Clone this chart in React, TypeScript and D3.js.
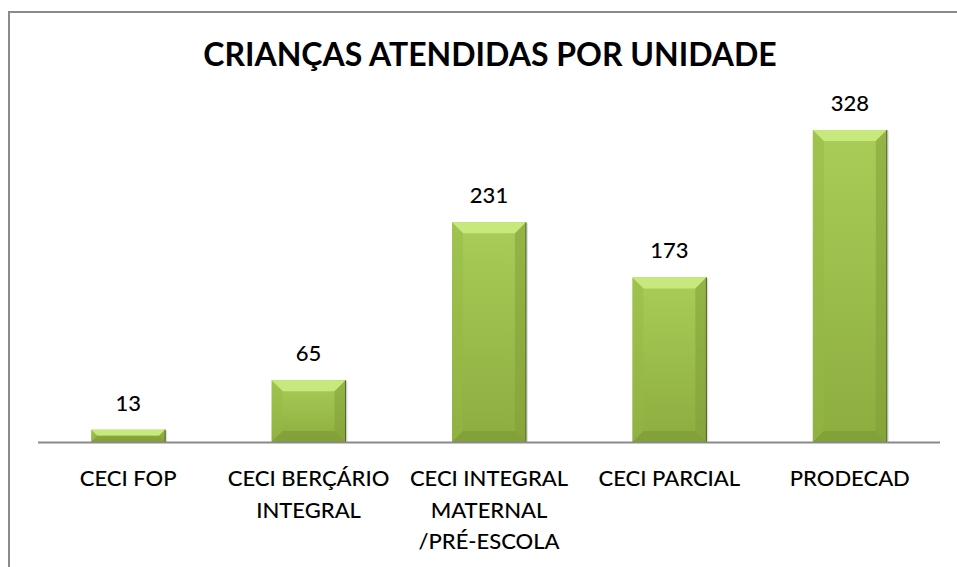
import React, { useEffect, useRef } from "react";
import * as d3 from "d3";

const categories = [
  ["CECI FOP"],
  ["CECI BERÇÁRIO", "INTEGRAL"],
  ["CECI INTEGRAL", "MATERNAL", "/PRÉ-ESCOLA"],
  ["CECI PARCIAL"],
  ["PRODECAD"],
];
const values = [13, 65, 231, 173, 328];
const title = "CRIANÇAS ATENDIDAS POR UNIDADE";

const App = () => {
  const ref = useRef<SVGSVGElement>(null);

  useEffect(() => {
    const svg = d3.select(ref.current);
    svg.selectAll("*").remove();

    const font = "Lato, 'Open Sans', sans-serif";
    const x = d3
      .scaleBand<number>()
      .domain(values.map((_, i) => i))
      .range([38, 940]);
    const y = d3.scaleLinear().domain([0, 350]).range([442, 109]);
    const barW = x.bandwidth() * 0.41;
    const bev = 11;

    const defs = svg.append("defs");
    const grad = defs
      .append("linearGradient")
      .attr("id", "face")
      .attr("x1", 0).attr("y1", 0).attr("x2", 0).attr("y2", 1);
    grad.append("stop").attr("offset", "0%").attr("stop-color", "#a9cd58");
    grad.append("stop").attr("offset", "100%").attr("stop-color", "#8dad3f");

    // chart border
    svg
      .append("rect")
      .attr("x", 9)
      .attr("y", 12)
      .attr("width", 980)
      .attr("height", 600)
      .attr("fill", "white")
      .attr("stroke", "#8a8a8a")
      .attr("stroke-width", 2);

    svg
      .append("text")
      .attr("x", 490)
      .attr("y", 66)
      .attr("text-anchor", "middle")
      .style("font-family", font)
      .style("font-weight", "bold")
      .style("font-size", "32px")
      .text(title);

    const bars = svg
      .selectAll("g.bar")
      .data(values)
      .enter()
      .append("g")
      .attr("class", "bar");

    bars.each(function (d, i) {
      const g = d3.select(this);
      const x0 = x(i)! + (x.bandwidth() - barW) / 2;
      const x1 = x0 + barW;
      const y0 = y(d);
      const y1 = y(0);
      const b = Math.min(bev, (y1 - y0) / 2);
      // shadow
      g.append("rect")
        .attr("x", x0 + 1)
        .attr("y", y0 + 1)
        .attr("width", barW + 1)
        .attr("height", y1 - y0)
        .attr("fill", "#000")
        .attr("opacity", 0.12);
      g.append("rect")
        .attr("x", x0)
        .attr("y", y0)
        .attr("width", barW)
        .attr("height", y1 - y0)
        .attr("fill", "url(#face)");
      const poly = (pts: number[][], fill: string, op = 1) =>
        g
          .append("polygon")
          .attr("points", pts.map((p) => p.join(",")).join(" "))
          .attr("fill", fill)
          .attr("opacity", op);
      poly([[x0, y0], [x1, y0], [x1 - b, y0 + b], [x0 + b, y0 + b]], "#c6e87c");
      poly([[x0, y0], [x0 + b, y0 + b], [x0 + b, y1 - b], [x0, y1]], "#95b845", 0.45);
      poly([[x1, y0], [x1, y1], [x1 - b, y1 - b], [x1 - b, y0 + b]], "#7f9c35", 0.5);
      poly([[x0, y1], [x0 + b, y1 - b], [x1 - b, y1 - b], [x1, y1]], "#7e9b35", 0.7);
      g.append("line")
        .attr("x1", x1)
        .attr("x2", x1)
        .attr("y1", y0)
        .attr("y2", y1)
        .attr("stroke", "#4d6020")
        .attr("stroke-width", 1);
      g.append("text")
        .attr("x", x0 + barW / 2)
        .attr("y", y0 - 19)
        .attr("text-anchor", "middle")
        .style("font-family", font)
        .style("font-size", "22px")
        .style("font-weight", "500")
        .text(d);
    });

    // baseline axis
    svg
      .append("line")
      .attr("x1", 38)
      .attr("x2", 940)
      .attr("y1", y(0) + 0.5)
      .attr("y2", y(0) + 0.5)
      .attr("stroke", "#8a8a8a")
      .attr("stroke-width", 2);

    const labels = svg
      .selectAll("text.cat")
      .data(categories)
      .enter()
      .append("text")
      .attr("class", "cat")
      .attr("text-anchor", "middle")
      .style("font-family", font)
      .style("font-size", "22px")
      .style("font-weight", "500");
    labels
      .selectAll("tspan")
      .data((d, i) => d.map((t) => ({ t, i })))
      .enter()
      .append("tspan")
      .attr("x", (d) => x(d.i)! + x.bandwidth() / 2)
      .attr("y", (d, j) => 486 + j * 31.5)
      .text((d) => d.t);
  }, []);

  return (
    <svg
      ref={ref}
      width={957}
      height={567}
      style={{ position: "absolute", left: 0, top: 0, display: "block" }}
    />
  );
};

export default App;
